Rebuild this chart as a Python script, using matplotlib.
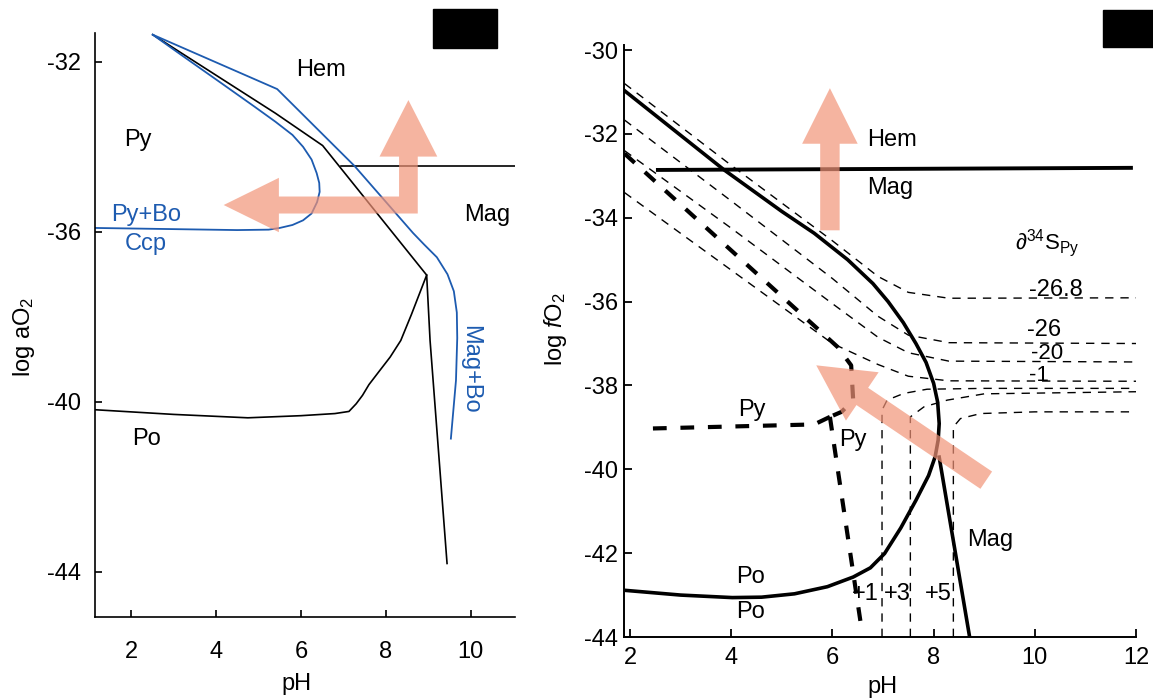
import matplotlib
matplotlib.use("Agg")
import matplotlib.pyplot as plt
from matplotlib.patches import Polygon, FancyArrowPatch, Rectangle

plt.rcParams['font.family'] = ['Liberation Sans', 'DejaVu Sans']
plt.rcParams['font.size'] = 17
plt.rcParams['axes.unicode_minus'] = False
plt.rcParams['mathtext.fontset'] = 'custom'
plt.rcParams['mathtext.rm'] = 'Liberation Sans'
plt.rcParams['mathtext.it'] = 'Liberation Sans:italic'
plt.rcParams['mathtext.bf'] = 'Liberation Sans:bold'

BLUE = '#1d5bb0'
SALMON = (0.95, 0.58, 0.47)

# ---- left panel (log aO2 vs pH) ----
hem_py_ph = [2.51, 5.40, 6.51, 8.96, 9.04, 9.44]
hem_py_o2 = [-31.36, -33.21, -33.97, -37.02, -38.56, -43.81]
po_ph = [8.96, 8.60, 8.35, 8.10, 7.83, 7.60, 7.45, 7.30, 7.13, 6.80, 6.00, 4.75, 3.00, 1.15]
po_o2 = [-37.02, -37.95, -38.56, -38.95, -39.30, -39.60, -39.85, -40.05, -40.23, -40.28, -40.33, -40.38, -40.30, -40.19]
hem_mag_ph = [6.94, 11.04]
hem_mag_o2 = [-34.45, -34.45]
bo_outer_ph = [2.51, 5.44, 7.26, 8.64, 8.90, 9.20, 9.45, 9.60, 9.67, 9.68, 9.65, 9.53]
bo_outer_o2 = [-31.36, -32.64, -34.45, -36.03, -36.30, -36.60, -37.00, -37.40, -37.90, -38.50, -39.50, -40.87]
bo_inner_ph = [2.51, 3.20, 4.18, 4.90, 5.40, 5.80, 6.05, 6.25, 6.37, 6.43, 6.44, 6.38, 6.25, 6.05,
               5.80, 5.50, 5.24, 4.50, 1.15]
bo_inner_o2 = [-31.36, -31.85, -32.54, -33.05, -33.41, -33.72, -34.00, -34.30, -34.62, -34.85, -35.06,
               -35.30, -35.57, -35.73, -35.84, -35.91, -35.95, -35.96, -35.91]

# ---- right panel (log fO2 vs pH) ----
outer_ph = [1.89, 3.86, 5.00, 5.64, 6.30, 6.80, 7.10, 7.40, 7.65, 7.85, 8.00, 8.08, 8.11, 8.09, 8.03,
            7.90, 7.65, 7.35, 7.03, 6.75, 6.41, 5.90, 5.25, 4.60, 4.02, 3.00, 1.93]
outer_o2 = [-30.97, -32.86, -33.85, -34.37, -35.00, -35.57, -36.00, -36.50, -37.00, -37.45, -37.95,
            -38.40, -38.91, -39.30, -39.70, -40.15, -40.74, -41.40, -42.01, -42.35, -42.57, -42.80,
            -42.97, -43.05, -43.06, -43.00, -42.89]
mag_ph = [8.11, 8.71]
mag_o2 = [-39.71, -43.99]
hm_ph = [2.55, 11.90]
hm_o2 = [-32.86, -32.81]
heavy_diag_ph = [1.89, 6.10, 6.37, 6.41, 6.18, 5.95]
heavy_diag_o2 = [-32.47, -37.08, -37.52, -38.35, -38.63, -38.75]
heavy_py_ph = [5.95, 5.64, 2.32]
heavy_py_o2 = [-38.75, -38.93, -39.03]
heavy_po_ph = [5.95, 6.57]
heavy_po_o2 = [-38.75, -43.76]

# delta34S contours
c_neg_ph = [1.89, 4.0, 6.0, 6.9, 7.5, 8.3, 12.0]
c268_o2 = [-30.80, -32.75, -34.55, -35.40, -35.78, -35.92, -35.91]
c26_o2 = [-31.67, -33.60, -35.45, -36.35, -36.80, -36.98, -37.00]
c20_o2 = [-32.40, -34.25, -36.05, -36.85, -37.22, -37.42, -37.44]
c1_o2 = [-33.40, -35.25, -37.00, -37.50, -37.78, -37.89, -37.90]
cp1_ph = [6.98, 6.98, 7.08, 7.41, 7.87, 9.0, 12.0]
cp1_o2 = [-44.0, -38.59, -38.35, -38.19, -38.09, -38.07, -38.07]
cp3_ph = [7.54, 7.54, 7.81, 8.27, 9.0, 12.0]
cp3_o2 = [-44.0, -38.75, -38.51, -38.35, -38.20, -38.15]
cp5_ph = [8.39, 8.39, 8.53, 8.93, 10.0, 12.0]
cp5_o2 = [-44.0, -38.99, -38.79, -38.67, -38.63, -38.63]

fig = plt.figure(figsize=(11.53, 7.0), dpi=100)

# ================= left =================
ax1 = fig.add_axes([95 / 1153, 1 - 617 / 700, 420 / 1153, 584 / 700])
ax1.plot(hem_py_ph, hem_py_o2, color='k', lw=1.2)
ax1.plot(po_ph, po_o2, color='k', lw=1.2)
ax1.plot(hem_mag_ph, hem_mag_o2, color='k', lw=1.2)
ax1.plot(bo_outer_ph, bo_outer_o2, color=BLUE, lw=1.3)
ax1.plot(bo_inner_ph, bo_inner_o2, color=BLUE, lw=1.3)

# L-shaped arrow
htx, hty = 4.18, -35.37
hbase = 5.48
vtx, vty = 8.53, -32.90
vbase = -34.23
bh, hh = 0.20, 0.64
bw, hw = 0.22, 0.68
l_arrow = [(htx, hty), (hbase, hty + hh), (hbase, hty + bh), (vtx - bw, hty + bh),
           (vtx - bw, vbase), (vtx - hw, vbase), (vtx, vty), (vtx + hw, vbase),
           (vtx + bw, vbase), (vtx + bw, hty - bh), (hbase, hty - bh), (hbase, hty - hh)]
ax1.add_patch(Polygon(l_arrow, closed=True, facecolor=SALMON, edgecolor='none', alpha=0.7, zorder=5))

ax1.text(6.47, -32.19, 'Hem', ha='center', va='center')
ax1.text(2.16, -33.84, 'Py', ha='center', va='center')
ax1.text(2.36, -35.61, 'Py+Bo', ha='center', va='center', color=BLUE)
ax1.text(2.34, -36.28, 'Ccp', ha='center', va='center', color=BLUE)
ax1.text(10.38, -35.61, 'Mag', ha='center', va='center')
ax1.text(9.98, -39.25, 'Mag+Bo', ha='center', va='center', color=BLUE, rotation=-90)
ax1.text(2.36, -40.88, 'Po', ha='center', va='center')

ax1.set_xlim(1.15, 11.04)
ax1.set_ylim(-45.07, -31.32)
ax1.set_xticks([2, 4, 6, 8, 10])
ax1.set_yticks([-32, -36, -40, -44])
ax1.spines['top'].set_visible(False)
ax1.spines['right'].set_visible(False)
for s in ('left', 'bottom'):
    ax1.spines[s].set_linewidth(1.2)
ax1.tick_params(direction='in', length=5, width=1.2)
ax1.tick_params(axis='x', pad=17)
ax1.tick_params(axis='y', pad=10)
ax1.set_xlabel('pH')
ax1.set_ylabel(r'log aO$_2$')
ax1.xaxis.set_label_coords(0.48, -0.096)
ax1.yaxis.set_label_coords(-0.138, 0.48)

# ================= right =================
ax2 = fig.add_axes([624 / 1153, 1 - 637 / 700, 512 / 1153, 592 / 700])
thin = dict(color='k', lw=1.0, ls=(0, (6, 5)))
heavy = dict(color='k', lw=3.0, ls=(0, (3.3, 3.3)))
for ys in (c268_o2, c26_o2, c20_o2, c1_o2):
    ax2.plot(c_neg_ph, ys, **thin)
ax2.plot(cp1_ph, cp1_o2, **thin)
ax2.plot(cp3_ph, cp3_o2, **thin)
ax2.plot(cp5_ph, cp5_o2, **thin)
ax2.plot(heavy_diag_ph, heavy_diag_o2, **heavy)
ax2.plot(heavy_py_ph, heavy_py_o2, **heavy)
ax2.plot(heavy_po_ph, heavy_po_o2, **heavy)
ax2.plot(outer_ph, outer_o2, color='k', lw=2.6)
ax2.plot(mag_ph, mag_o2, color='k', lw=2.6)
ax2.plot(hm_ph, hm_o2, color='k', lw=2.8)

# arrows
up = FancyArrowPatch((5.95, -34.30), (5.95, -30.91), arrowstyle='simple,head_length=40,head_width=40,tail_width=14',
                     mutation_scale=1, shrinkA=0, shrinkB=0, facecolor=SALMON, edgecolor='none', alpha=0.7, zorder=5)
ax2.add_patch(up)
diag = FancyArrowPatch((9.04, -40.26), (5.68, -37.52), arrowstyle='simple,head_length=40,head_width=42,tail_width=15',
                       mutation_scale=1, shrinkA=0, shrinkB=0, facecolor=SALMON, edgecolor='none', alpha=0.7, zorder=5)
ax2.add_patch(diag)

ax2.text(7.18, -32.15, 'Hem', ha='center', va='center')
ax2.text(7.15, -33.30, 'Mag', ha='center', va='center')
ax2.text(10.24, -34.61, r'$\partial^{34}$S$_{\rm Py}$', ha='center', va='center', fontsize=16)
ax2.text(10.41, -35.73, '-26.8', ha='center', va='center')
ax2.text(10.18, -36.68, '-26', ha='center', va='center')
ax2.text(10.24, -37.24, '-20', ha='center', va='center', fontsize=16)
ax2.text(10.08, -37.76, '-1', ha='center', va='center', fontsize=16)
ax2.text(4.40, -38.59, 'Py', ha='center', va='center')
ax2.text(6.41, -39.31, 'Py', ha='center', va='center')
ax2.text(4.39, -42.58, 'Po', ha='center', va='center')
ax2.text(4.39, -43.41, 'Po', ha='center', va='center')
ax2.text(9.12, -41.69, 'Mag', ha='center', va='center')
ax2.text(6.65, -42.97, '+1', ha='center', va='center')
ax2.text(7.28, -42.97, '+3', ha='center', va='center')
ax2.text(8.10, -42.97, '+5', ha='center', va='center')

ax2.set_xlim(1.88, 12.0)
ax2.set_ylim(-44.0, -29.88)
ax2.set_xticks([2, 4, 6, 8, 10, 12])
ax2.set_yticks([-30, -32, -34, -36, -38, -40, -42, -44])
ax2.spines['top'].set_visible(False)
ax2.spines['right'].set_visible(False)
for s in ('left', 'bottom'):
    ax2.spines[s].set_linewidth(1.4)
ax2.tick_params(direction='in', length=6, width=1.3)
ax2.tick_params(axis='x', pad=7)
ax2.tick_params(axis='y', pad=4)
ax2.set_xlabel('pH')
ax2.set_ylabel(r'log $\mathit{f}$O$_2$')
ax2.xaxis.set_label_coords(0.504, -0.066)
ax2.yaxis.set_label_coords(-0.108, 0.52)

# black boxes in the corners
fig.add_artist(Rectangle((433 / 1153, 1 - 48 / 700), 64 / 1153, 39 / 700, transform=fig.transFigure, color='k'))
fig.add_artist(Rectangle((1103 / 1153, 1 - 47 / 700), 50 / 1153, 37 / 700, transform=fig.transFigure, color='k'))

fig.savefig('out.png', dpi=100)
